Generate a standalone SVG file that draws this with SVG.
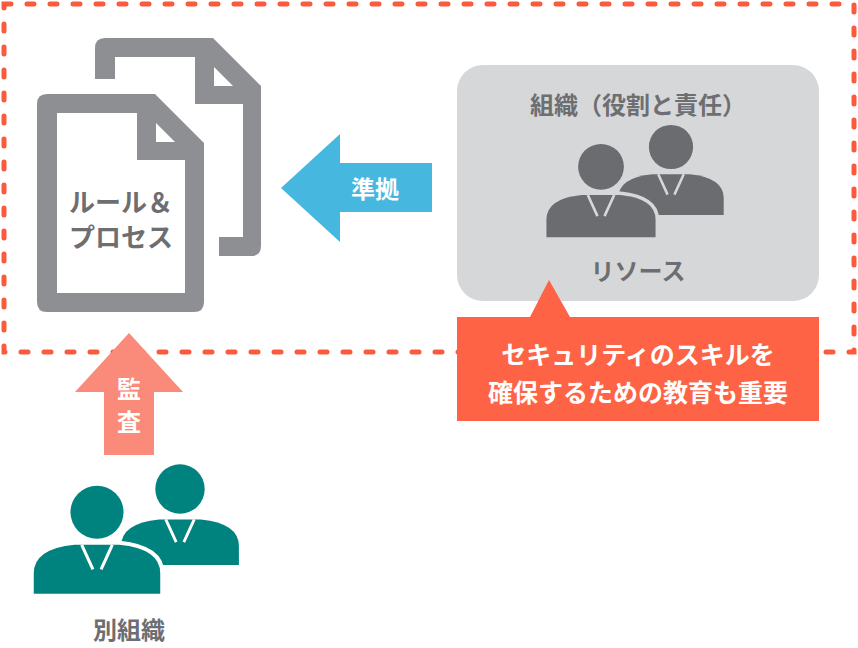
<svg xmlns="http://www.w3.org/2000/svg" width="858" height="648" viewBox="0 0 858 648">
<style>
.t{font-family:"Noto Sans CJK JP","Noto Sans CJK SC",sans-serif;font-weight:700;text-anchor:middle}
.doc{fill:#8e8f93}
</style>
<defs>
<g id="person">
<circle cx="0" cy="-40" r="26"/>
<path d="M-62 40 V20 Q-62 -4 -22 -8 L0 -8 L22 -8 Q62 -4 62 20 V40 Z"/>
</g>
<g id="collar">
<path d="M-15 -8 L-4 16 M15 -8 L4 16" fill="none" stroke-width="3"/>
</g>
</defs>
<rect x="4" y="4" width="850" height="348" fill="none" stroke="#fb5b3c" stroke-width="5" stroke-dasharray="7 16" stroke-linecap="round"/>

<g id="docs">
<path class="doc" d="M105 38 H213 L261 86 V246 Q261 256 251 256 H105 Q95 256 95 246 V48 Q95 38 105 38 Z"/>
<path d="M115 57 H195 V104 H243 V237 H115 Z" fill="#fff"/>
<path d="M214 67 L233 86 H214 Z" fill="#fff"/>
<path d="M47 94 H155 L204 143 V302 Q204 312 194 312 H47 Q37 312 37 302 V104 Q37 94 47 94 Z" fill="#fff" stroke="#fff" stroke-width="30" stroke-linejoin="round"/>
<path class="doc" d="M47 94 H155 L204 143 V302 Q204 312 194 312 H47 Q37 312 37 302 V104 Q37 94 47 94 Z"/>
<path d="M57 113 H137 V160 H185 V293 H57 Z" fill="#fff"/>
<path d="M156 123 L175 142 H156 Z" fill="#fff"/>
<text class="t" x="121" y="212" font-size="26" fill="#6d6e71">ルール＆</text>
<text class="t" x="121" y="247" font-size="26" fill="#6d6e71">プロセス</text>
</g>

<g id="connectors">
<path d="M281 188 L340 134 V163 H432 V212 H340 V242 Z" fill="#46b8e0"/>
<text class="t" x="375" y="198" font-size="24" fill="#fff">準拠</text>
<path d="M129 333 L183 392 H154 V455 H104 V392 H75 Z" fill="#fa8a7a"/>
<text class="t" x="129" y="398" font-size="24" fill="#fff">監</text>
<text class="t" x="129" y="431" font-size="24" fill="#fff">査</text>
</g>

<g id="org">
<rect x="457" y="65" width="362" height="236" rx="26" fill="#d6d7d9"/>
<text class="t" x="638" y="114" font-size="24" fill="#6d6e71">組織（役割と責任）</text>
<g transform="translate(671,181) scale(0.85)" fill="#6b6c70"><use href="#person"/><g stroke="#d6d7d9"><use href="#collar"/></g></g>
<g transform="translate(601,202) scale(0.88)" fill="#6b6c70" stroke="#d6d7d9" stroke-width="8"><use href="#person"/></g>
<g transform="translate(601,202) scale(0.88)" fill="#6b6c70"><use href="#person"/><g stroke="#d6d7d9"><use href="#collar"/></g></g>
<text class="t" x="638" y="280" font-size="24" fill="#6d6e71">リソース</text>
</g>

<g id="callout">
<path d="M457 317 H530 L549 280 L570 317 H819 V421 H457 Z" fill="#fd6344"/>
<text class="t" x="638" y="364" font-size="25" fill="#fff">セキュリティのスキルを</text>
<text class="t" x="638" y="402" font-size="25" fill="#fff">確保するための教育も重要</text>
</g>

<g id="other">
<g transform="translate(180,527) scale(0.95)" fill="#00827f"><use href="#person"/><g stroke="#fff"><use href="#collar"/></g></g>
<g transform="translate(97,553) scale(1.02)" fill="#00827f" stroke="#fff" stroke-width="8"><use href="#person"/></g>
<g transform="translate(97,553) scale(1.02)" fill="#00827f"><use href="#person"/><g stroke="#fff"><use href="#collar"/></g></g>
<text class="t" x="129" y="639" font-size="24" fill="#6d6e71">別組織</text>
</g>
</svg>
